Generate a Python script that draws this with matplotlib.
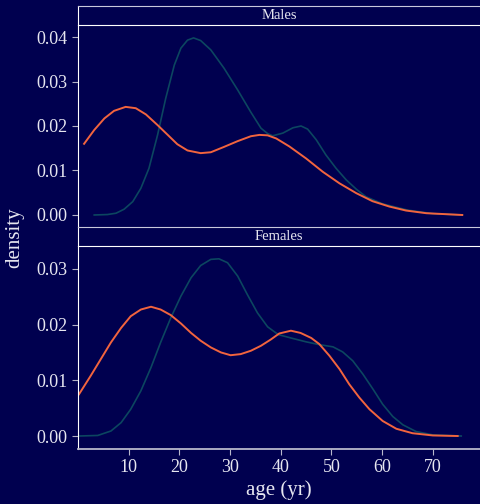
import matplotlib
matplotlib.use("Agg")
import matplotlib.pyplot as plt

# --- dati ---
# Males
m_orange_age = [1.2, 3.2, 5.2, 7.1, 9.4, 11.4, 13.4, 15.7, 17.7, 19.6, 21.6, 24.2, 26.2,
                28.8, 31.5, 34.1, 35.8, 37.4, 39.1, 41.7, 45.0, 48.3, 51.6, 54.9, 58.1,
                61.4, 64.7, 68.7, 75.8]
m_orange_den = [0.0160, 0.0191, 0.0217, 0.0234, 0.0243, 0.0240, 0.0226, 0.0202, 0.0180,
                0.0159, 0.0145, 0.0139, 0.0141, 0.0153, 0.0166, 0.0177, 0.0180, 0.0179,
                0.0172, 0.0154, 0.0127, 0.0097, 0.0071, 0.0049, 0.0031, 0.0019, 0.0010,
                0.0004, 0.0000]
m_teal_age = [3.2, 5.8, 7.5, 9.1, 10.8, 12.4, 14.0, 15.7, 17.3, 19.0, 20.3, 21.6, 22.8,
              24.2, 26.2, 28.8, 31.5, 34.1, 36.1, 37.4, 38.4, 40.4, 42.4, 44.0, 45.3,
              47.0, 48.9, 50.9, 52.9, 54.9, 56.8, 60.1, 65.0, 70.0, 75.8]
m_teal_den = [0.0000, 0.0001, 0.0004, 0.0013, 0.0030, 0.0060, 0.0105, 0.0180, 0.0262,
              0.0337, 0.0375, 0.0393, 0.0398, 0.0392, 0.0371, 0.0330, 0.0281, 0.0231,
              0.0195, 0.0183, 0.0178, 0.0184, 0.0196, 0.0200, 0.0193, 0.0169, 0.0135,
              0.0105, 0.0079, 0.0058, 0.0041, 0.0025, 0.0011, 0.0003, 0.0000]

# Females
f_orange_age = [0.2, 2.5, 4.5, 6.5, 8.5, 10.4, 12.4, 14.4, 16.3, 18.3, 20.3, 22.3, 24.2,
                26.2, 28.2, 30.1, 32.1, 34.1, 36.1, 38.0, 39.7, 42.0, 43.9, 46.0, 47.6,
                49.6, 51.6, 53.5, 55.5, 57.5, 60.1, 62.8, 66.0, 70.0, 74.9]
f_orange_den = [0.0075, 0.0108, 0.0138, 0.0168, 0.0194, 0.0215, 0.0227, 0.0232, 0.0227,
                0.0217, 0.0202, 0.0185, 0.0171, 0.0159, 0.0150, 0.0145, 0.0147, 0.0153,
                0.0162, 0.0173, 0.0184, 0.0189, 0.0185, 0.0176, 0.0165, 0.0144, 0.0120,
                0.0093, 0.0069, 0.0048, 0.0027, 0.0013, 0.0005, 0.0001, 0.0000]
f_teal_age = [0.2, 3.9, 6.5, 8.5, 10.4, 12.4, 14.4, 16.3, 18.3, 20.3, 22.3, 24.2, 26.2,
              27.8, 29.5, 31.5, 33.4, 35.4, 37.4, 39.5, 42.4, 45.0, 47.6, 50.3, 52.2,
              54.2, 56.2, 58.2, 60.1, 62.1, 64.1, 66.7, 70.0, 75.6]
f_teal_den = [0.0000, 0.0001, 0.0009, 0.0024, 0.0048, 0.0081, 0.0123, 0.0168, 0.0212,
              0.0251, 0.0284, 0.0306, 0.0317, 0.0318, 0.0311, 0.0287, 0.0254, 0.0221,
              0.0196, 0.0182, 0.0175, 0.0169, 0.0164, 0.0160, 0.0151, 0.0135, 0.0111,
              0.0084, 0.0057, 0.0035, 0.0020, 0.0008, 0.0002, 0.0000]

x_ticks = [10, 20, 30, 40, 50, 60, 70]

# --- stile ---
bg = '#00004f'
txt = '#e6e6f0'
orange = '#f2643e'
teal = '#0c4660'
plt.rcParams['font.family'] = ['Liberation Serif', 'DejaVu Serif']

W, H = 480, 504
fig = plt.figure(figsize=(W / 100, H / 100), dpi=100, facecolor=bg)
L = 78 / W


def box(top, bottom):
    return [L, 1 - bottom / H, 1 - L, (bottom - top) / H]


def make_strip(top, bottom, label):
    s = fig.add_axes(box(top, bottom))
    s.set_facecolor(bg)
    s.set_xticks([])
    s.set_yticks([])
    s.spines['right'].set_visible(False)
    s.spines['top'].set_color('#c8c8dc')
    s.spines['bottom'].set_color('white')
    s.spines['left'].set_color('white')
    s.text(0.5, 0.5, label, transform=s.transAxes, ha='center', va='center',
           color=txt, fontsize=10.5)
    return s


def make_panel(top, bottom, ylim, yticks, show_x):
    ax = fig.add_axes(box(top, bottom))
    ax.set_facecolor(bg)
    ax.set_xlim(0, 79.3)
    ax.set_ylim(*ylim)
    ax.set_yticks(yticks)
    ax.set_yticklabels([f'{v:.2f}' for v in yticks])
    for k in ['top', 'right']:
        ax.spines[k].set_visible(False)
    ax.spines['left'].set_color('white')
    ax.tick_params(axis='y', colors='#b0b0c4', labelcolor=txt, labelsize=13,
                   length=4, width=0.8)
    if show_x:
        ax.spines['bottom'].set_color('#b8b8cc')
        ax.spines['bottom'].set_linewidth(1.3)
        ax.set_xticks(x_ticks)
        ax.tick_params(axis='x', colors='#b8b8cc', labelcolor=txt, labelsize=13,
                       length=4, width=0.8)
    else:
        ax.spines['bottom'].set_visible(False)
        ax.set_xticks([])
    return ax


ax1 = make_panel(25, 227, (-0.0027, 0.0427), [0.00, 0.01, 0.02, 0.03, 0.04], False)
ax1.plot(m_teal_age, m_teal_den, color=teal, lw=1.2)
ax1.plot(m_orange_age, m_orange_den, color=orange, lw=1.4)
make_strip(6, 25, 'Males')

ax2 = make_panel(246, 449, (-0.00233, 0.0341), [0.00, 0.01, 0.02, 0.03], True)
ax2.plot(f_teal_age, f_teal_den, color=teal, lw=1.2)
ax2.plot(f_orange_age, f_orange_den, color=orange, lw=1.4)
make_strip(227, 246, 'Females')

fig.text(279 / W, 1 - 490 / H, 'age (yr)', ha='center', va='center', color=txt, fontsize=15)
fig.text(15 / W, 1 - 238 / H, 'density', ha='center', va='center', rotation=90,
         color=txt, fontsize=15)

fig.savefig('out.png', dpi=100, facecolor=bg)
